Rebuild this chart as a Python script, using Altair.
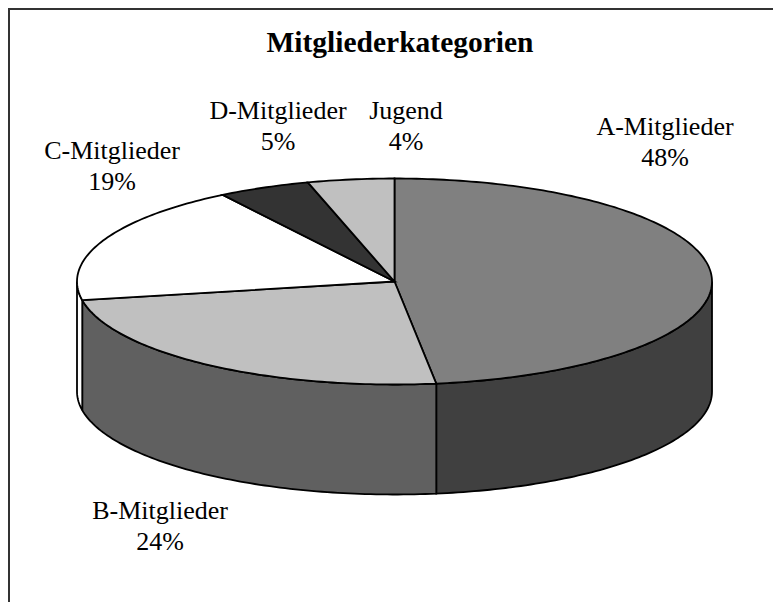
import numpy as np
import pandas as pd
import altair as alt

categories = ["A-Mitglieder", "B-Mitglieder", "C-Mitglieder", "D-Mitglieder", "Jugend"]
shares = [47.9, 24.2, 18.8, 4.7, 4.4]
percent_labels = ["48%", "24%", "19%", "5%", "4%"]
title_text = "Mitgliederkategorien"

top_colors = ["#808080", "#c0c0c0", "#ffffff", "#333333", "#c0c0c0"]
wall_colors = ["#404040", "#606060", "#ffffff", "#333333", "#c0c0c0"]

W, H = 765, 594
CX, CY, RX, RY, DEPTH = 394.5, 281.5, 317.5, 103.0, 110.0
label_anchor = {
    "A-Mitglieder": (665, 135),
    "B-Mitglieder": (160, 519),
    "C-Mitglieder": (112, 159),
    "D-Mitglieder": (278, 119),
    "Jugend": (406, 119),
}
LINE = 31


def px(t):
    return CX + RX * np.sin(np.radians(t))


def py(t, dz=0.0):
    return CY - RY * np.cos(np.radians(t)) + dz


def arc(a, b):
    n = max(2, int(abs(b - a)) + 2)
    return np.linspace(a, b, n)


xs = alt.X("x:Q", scale=alt.Scale(domain=[8, 8 + W], range=[0, W], nice=False, zero=False), axis=None)
ys = alt.Y("y:Q", scale=alt.Scale(domain=[8, 8 + H], range=[0, H], nice=False, zero=False), axis=None)


def polygon(xv, yv, fill):
    df = pd.DataFrame({"x": xv, "y": yv, "i": np.arange(len(xv))})
    return (
        alt.Chart(df)
        .mark_line(fill=fill, stroke="black", strokeWidth=1.8, interpolate="linear-closed", clip=False)
        .encode(x=xs, y=ys, order=alt.Order("i:Q"))
    )


edges = np.concatenate([[0], np.cumsum(shares)]) * 3.6
layers = []
# side walls: only the front half (90..270 degrees) is visible
for k in range(len(shares)):
    a, b = max(edges[k], 90), min(edges[k + 1], 270)
    if a < b:
        t = arc(a, b)
        layers.append(
            polygon(
                np.concatenate([px(t), px(t[::-1])]),
                np.concatenate([py(t), py(t[::-1], DEPTH)]),
                wall_colors[k],
            )
        )
# top face slices
for k in range(len(shares)):
    t = arc(edges[k], edges[k + 1])
    layers.append(
        polygon(
            np.concatenate([[CX], px(t)]),
            np.concatenate([[CY], py(t)]),
            top_colors[k],
        )
    )

rows = []
for c, p in zip(categories, percent_labels):
    x0, y0 = label_anchor[c]
    rows.append({"x": x0, "y": y0, "t": c})
    rows.append({"x": x0, "y": y0 + LINE, "t": p})
labels = (
    alt.Chart(pd.DataFrame(rows))
    .mark_text(font="Liberation Serif", fontSize=26, align="center", baseline="alphabetic", color="black")
    .encode(x=xs, y=ys, text="t:N")
)
title = (
    alt.Chart(pd.DataFrame([{"x": 400, "y": 52, "t": title_text}]))
    .mark_text(font="Liberation Serif", fontSize=29.5, fontWeight="bold", align="center", baseline="alphabetic", color="black")
    .encode(x=xs, y=ys, text="t:N")
)
frame_left = alt.Chart(pd.DataFrame({"a": [0]})).mark_rule(stroke="#333333", strokeWidth=2).encode(
    x=alt.value(1), y=alt.value(0), y2=alt.value(H)
)
frame_top = alt.Chart(pd.DataFrame({"a": [0]})).mark_rule(stroke="#333333", strokeWidth=2).encode(
    y=alt.value(1), x=alt.value(0), x2=alt.value(W)
)

chart = (
    alt.layer(*layers, labels, title, frame_left, frame_top)
    .properties(width=W, height=H, padding=0, autosize=alt.AutoSizeParams(type="none"), background="white")
    .configure_view(stroke=None)
)
chart.save("out.html", embed_options={"renderer": "svg", "actions": False})
